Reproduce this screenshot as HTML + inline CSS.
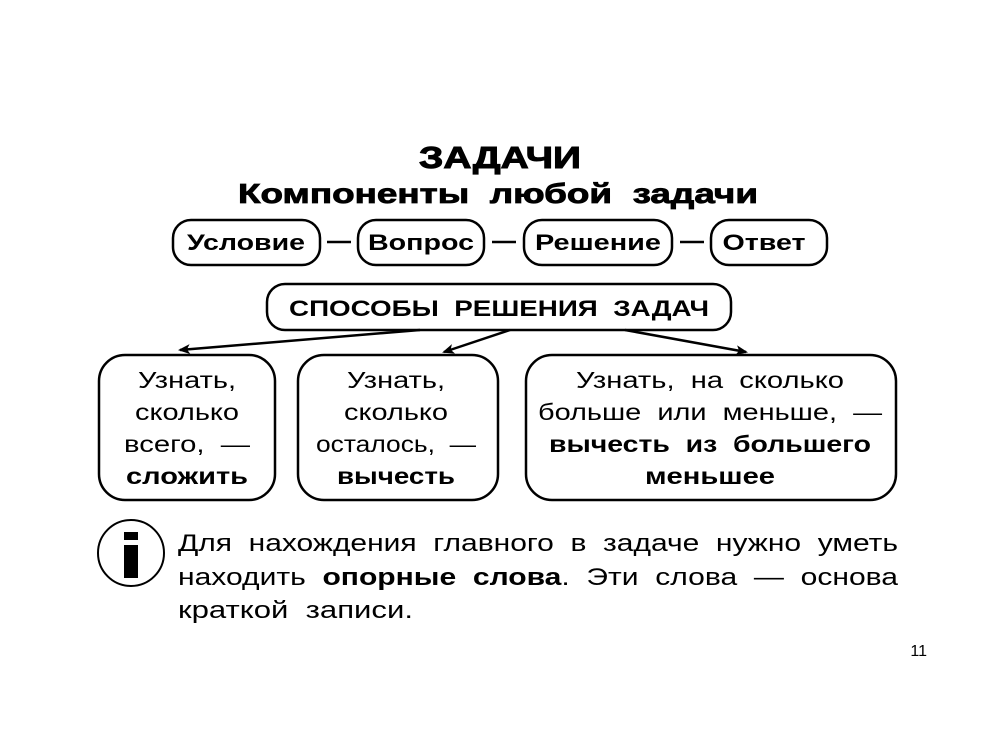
<!DOCTYPE html>
<html><head><meta charset="utf-8"><style>
html,body{margin:0;padding:0;background:#fff;}
svg{display:block;}
text{font-family:"Liberation Sans",sans-serif;fill:#000;}
.b{font-weight:bold;}
</style></head><body>
<svg width="1000" height="733" viewBox="0 0 1000 733" xmlns="http://www.w3.org/2000/svg">
<defs><marker id="ah" markerWidth="12" markerHeight="10" refX="10" refY="5" orient="auto" markerUnits="userSpaceOnUse"><path d="M0,0 L12,5 L0,10 L3,5 Z" fill="#000"/></marker></defs>
<text x="500" y="168" text-anchor="middle" class="b" font-size="31" textLength="162" lengthAdjust="spacingAndGlyphs" stroke="#000" stroke-width="1">ЗАДАЧИ</text>
<text x="498" y="203" text-anchor="middle" class="b" font-size="28" textLength="520" lengthAdjust="spacingAndGlyphs" stroke="#000" stroke-width="0.8">Компоненты&#160;&#160;любой&#160;&#160;задачи</text>

<g fill="none" stroke="#000" stroke-width="2.5">
<rect x="173" y="220" width="147" height="45" rx="18"/>
<rect x="358" y="220" width="126" height="45" rx="18"/>
<rect x="524" y="220" width="148" height="45" rx="18"/>
<rect x="711" y="220" width="116" height="45" rx="18"/>
<rect x="267" y="284" width="464" height="46" rx="18"/>
<rect x="99" y="355" width="176" height="145" rx="26"/>
<rect x="298" y="355" width="200" height="145" rx="26"/>
<rect x="526" y="355" width="370" height="145" rx="26"/>
<circle cx="131" cy="553" r="33" stroke-width="2"/>
</g>
<g stroke="#000" stroke-width="2.5">
<line x1="327" y1="242" x2="351" y2="242"/>
<line x1="492" y1="242" x2="516" y2="242"/>
<line x1="680" y1="242" x2="704" y2="242"/>
<line x1="420" y1="330" x2="180" y2="350" marker-end="url(#ah)"/>
<line x1="510" y1="330" x2="444" y2="352" marker-end="url(#ah)"/>
<line x1="625" y1="330" x2="746" y2="352" marker-end="url(#ah)"/>
</g>
<rect x="124" y="532" width="14" height="8" fill="#000"/>
<rect x="124" y="545" width="14" height="33" fill="#000"/>

<g class="b" font-size="22">
<text x="246" y="250" text-anchor="middle" textLength="118" lengthAdjust="spacingAndGlyphs">Условие</text>
<text x="421" y="250" text-anchor="middle" textLength="106" lengthAdjust="spacingAndGlyphs">Вопрос</text>
<text x="598" y="250" text-anchor="middle" textLength="126" lengthAdjust="spacingAndGlyphs">Решение</text>
<text x="764" y="250" text-anchor="middle" textLength="83" lengthAdjust="spacingAndGlyphs">Ответ</text>
<text x="499" y="316" text-anchor="middle" textLength="420" lengthAdjust="spacingAndGlyphs">СПОСОБЫ&#160;&#160;РЕШЕНИЯ&#160;&#160;ЗАДАЧ</text>
</g>

<g font-size="23" text-anchor="middle">
<text x="187" y="388" textLength="98" lengthAdjust="spacingAndGlyphs">Узнать,</text>
<text x="187" y="420" textLength="104" lengthAdjust="spacingAndGlyphs">сколько</text>
<text x="187" y="452" textLength="126" lengthAdjust="spacingAndGlyphs">всего,&#160;&#160;—</text>
<text x="187" y="484" class="b" textLength="122" lengthAdjust="spacingAndGlyphs">сложить</text>
<text x="396" y="388" textLength="98" lengthAdjust="spacingAndGlyphs">Узнать,</text>
<text x="396" y="420" textLength="104" lengthAdjust="spacingAndGlyphs">сколько</text>
<text x="396" y="452" textLength="160" lengthAdjust="spacingAndGlyphs">осталось,&#160;&#160;—</text>
<text x="396" y="484" class="b" textLength="118" lengthAdjust="spacingAndGlyphs">вычесть</text>
<text x="710" y="388" textLength="268" lengthAdjust="spacingAndGlyphs">Узнать,&#160;&#160;на&#160;&#160;сколько</text>
<text x="710" y="420" textLength="344" lengthAdjust="spacingAndGlyphs">больше&#160;&#160;или&#160;&#160;меньше,&#160;&#160;—</text>
<text x="710" y="452" class="b" textLength="322" lengthAdjust="spacingAndGlyphs">вычесть&#160;&#160;из&#160;&#160;большего</text>
<text x="710" y="484" class="b" textLength="130" lengthAdjust="spacingAndGlyphs">меньшее</text>
</g>

<g font-size="24">
<text x="178" y="551" textLength="720" lengthAdjust="spacingAndGlyphs">Для&#160;&#160;нахождения&#160;&#160;главного&#160;&#160;в&#160;&#160;задаче&#160;&#160;нужно&#160;&#160;уметь</text>
<text x="178" y="585" textLength="720" lengthAdjust="spacingAndGlyphs">находить&#160;&#160;<tspan class="b">опорные&#160;&#160;слова</tspan>.&#160;&#160;Эти&#160;&#160;слова&#160;&#160;—&#160;&#160;основа</text>
<text x="178" y="618" textLength="235" lengthAdjust="spacingAndGlyphs">краткой&#160;&#160;записи.</text>
</g>
<text x="927" y="656" text-anchor="end" font-size="16">11</text>
</svg>
</body></html>
